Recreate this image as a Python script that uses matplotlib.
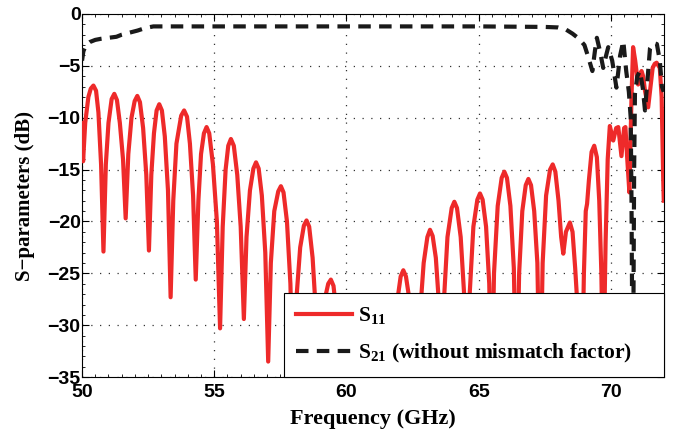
import matplotlib
matplotlib.use("Agg")
import matplotlib.pyplot as plt
from matplotlib.ticker import MultipleLocator

# S11 (GHz, dB)
f_s11 = [50.00, 50.04, 50.12, 50.24, 50.33, 50.43, 50.53, 50.62, 50.72, 50.81,
         50.90, 51.00, 51.12, 51.22, 51.32, 51.43, 51.55, 51.65,
         51.75, 51.87, 51.99, 52.09, 52.19, 52.31, 52.43, 52.53,
         52.62, 52.72, 52.82, 52.92, 53.02, 53.13, 53.25, 53.35,
         53.45, 53.57, 53.75, 53.86, 53.97, 54.08, 54.20, 54.30,
         54.40, 54.50, 54.61, 54.71, 54.81, 54.95, 55.10, 55.22,
         55.32, 55.43, 55.53, 55.63, 55.74, 55.87, 56.00, 56.12,
         56.22, 56.35, 56.48, 56.58, 56.68, 56.80, 56.93, 57.04,
         57.14, 57.27, 57.42, 57.52, 57.62, 57.75, 57.88, 58.00,
         58.12, 58.25, 58.39, 58.49, 58.59, 58.72, 58.85, 58.95,
         59.05, 59.18, 59.31, 59.41, 59.51, 59.63, 59.75, 59.85,
         59.97, 60.10, 60.25, 60.35, 60.45, 60.58, 60.75,
         60.90, 61.03, 61.15, 61.25, 61.35, 61.50, 61.70,
         61.82, 61.93, 62.05, 62.15, 62.25, 62.38, 62.52, 62.65,
         62.78, 62.92, 63.06, 63.16, 63.26, 63.38, 63.50, 63.60,
         63.70, 63.82, 63.98, 64.08, 64.18, 64.32, 64.45, 64.55,
         64.66, 64.80, 64.95, 65.05, 65.15, 65.28, 65.40, 65.49,
         65.58, 65.72, 65.87, 65.97, 66.07, 66.20, 66.33, 66.43,
         66.53, 66.65, 66.78, 66.88, 66.98, 67.10, 67.22, 67.32,
         67.42, 67.55, 67.70, 67.80, 67.90, 68.02, 68.12, 68.20,
         68.30, 68.45, 68.55, 68.65, 68.78, 68.89,
         68.98, 69.05, 69.10, 69.17, 69.27, 69.37, 69.47, 69.56, 69.64, 69.71,
         69.80, 69.88, 69.96, 70.09, 70.20, 70.28, 70.40, 70.50, 70.55,
         70.62, 70.70, 70.78, 70.84, 70.92, 71.03, 71.10, 71.16, 71.22,
         71.29, 71.41, 71.50, 71.58, 71.66, 71.73, 71.85, 71.92, 71.98, 72.00]
s11 = [-10.5, -14.2, -10.5, -8.0, -7.2, -6.9, -7.4, -9.5, -14.5, -22.9,
       -14.5, -10.5, -8.2, -7.7, -8.3, -10.5, -14.0, -19.7,
       -13.5, -10.0, -8.4, -7.9, -8.5, -11.0, -15.5, -22.8,
       -15.5, -11.5, -9.3, -8.7, -9.3, -11.8, -17.0, -27.3,
       -18.0, -12.5, -9.8, -9.3, -9.9, -12.5, -17.5, -25.6,
       -18.0, -13.5, -11.5, -10.9, -11.5, -14.5, -20.0, -30.3,
       -20.5, -15.0, -12.7, -12.05, -12.7, -15.5, -20.5, -29.4,
       -21.5, -17.0, -14.9, -14.3, -14.9, -17.5, -23.0, -33.5,
       -24.0, -19.0, -17.1, -16.6, -17.2, -20.0, -26.0, -38.0,
       -27.0, -22.5, -20.4, -19.9, -20.5, -23.5, -29.0, -38.0,
       -30.0, -27.5, -26.0, -25.6, -26.2, -29.0, -33.0, -40.0,
       -34.0, -31.0, -29.3, -29.0, -29.4, -31.5, -40.0,
       -32.5, -29.5, -28.0, -27.8, -28.4, -31.0, -40.0,
       -31.0, -27.5, -25.3, -24.7, -25.3, -27.5, -31.5, -40.0,
       -29.0, -24.0, -21.5, -20.8, -21.4, -23.5, -28.0, -40.0,
       -27.0, -21.5, -18.7, -18.1, -18.7, -21.5, -27.0, -40.0,
       -27.0, -20.5, -17.9, -17.3, -17.9, -20.5, -26.0, -38.0,
       -25.0, -18.5, -15.8, -15.2, -15.8, -18.5, -24.5, -38.0,
       -25.0, -19.0, -16.5, -15.9, -16.5, -19.0, -24.0, -38.0,
       -24.0, -17.5, -15.0, -14.5, -15.2, -18.0, -21.5, -23.1,
       -21.0, -20.1, -21.0, -24.5, -30.0, -38.0,
       -25.0, -19.0, -18.3, -16.0, -13.3, -12.7, -13.8, -18.0, -25.0, -36.0,
       -22.0, -14.0, -10.8, -12.2, -11.0, -10.9, -13.7, -11.0, -10.9,
       -14.0, -17.2, -8.0, -3.2, -4.5, -6.8, -5.8, -5.5, -6.0,
       -7.4, -9.0, -7.0, -5.2, -4.8, -4.7, -5.2, -8.0, -16.0, -18.0]

# S21 (without mismatch factor)
f_s21 = [50.00, 50.05, 50.15, 50.30, 50.50, 50.70, 51.00, 51.30, 51.50, 51.80,
         52.10, 52.40, 52.70, 55.00, 60.00, 65.00, 67.50, 68.00, 68.30, 68.55,
         68.80, 69.00, 69.15, 69.30, 69.40, 69.47, 69.58, 69.71, 69.82, 69.90,
         70.05, 70.21, 70.35, 70.47, 70.58, 70.68, 70.75, 70.78, 70.80, 70.83,
         70.88, 70.91, 71.00, 71.10, 71.21, 71.29, 71.38, 71.48, 71.60, 71.74,
         71.85, 71.93, 72.00]
s21 = [-4.5, -3.6, -3.0, -2.7, -2.5, -2.4, -2.3, -2.2, -2.0, -1.8,
       -1.6, -1.35, -1.2, -1.2, -1.2, -1.2, -1.25, -1.3, -1.5, -1.9,
       -2.4, -3.0, -4.2, -5.5, -3.5, -2.3, -3.5, -5.2, -4.0, -3.2,
       -4.5, -7.1, -4.0, -2.6, -5.5, -7.5, -10.0, -18.0, -27.0, -40.0,
       -15.0, -7.7, -6.0, -5.5, -7.2, -9.3, -6.5, -3.3, -2.8, -2.9,
       -4.5, -7.0, -7.5]

plt.rcParams['mathtext.fontset'] = 'custom'
plt.rcParams['mathtext.rm'] = 'Liberation Serif:bold'
plt.rcParams['mathtext.bf'] = 'Liberation Serif:bold'
plt.rcParams['mathtext.it'] = 'Liberation Serif:bold'

fig = plt.figure(figsize=(6.78, 4.36), dpi=100)
ax = fig.add_axes([0.121, 0.135, 0.858, 0.833])

ax.plot(f_s11, s11, color='#ee2a2a', lw=3.0, label=r'$\mathbf{S_{11}}$', zorder=3)
ax.plot(f_s21, s21, color='#1a1a1a', lw=3.0, dashes=(3, 2),
        label=r'$\mathbf{S_{21}}$ (without mismatch factor)', zorder=4)

ax.set_xlim(50, 72)
ax.set_ylim(-35, 0)
ax.xaxis.set_major_locator(MultipleLocator(5))
ax.yaxis.set_major_locator(MultipleLocator(5))
ax.xaxis.set_minor_locator(MultipleLocator(0.5))
ax.yaxis.set_minor_locator(MultipleLocator(1))
ax.tick_params(which='both', direction='in', top=True, right=True)
ax.tick_params(which='major', length=5, width=0.8)
ax.tick_params(which='minor', length=2.5, width=0.6)
ax.grid(True, which='major', linestyle=(0, (1, 6)), color='#333333', lw=0.9)

for lab in ax.get_xticklabels() + ax.get_yticklabels():
    lab.set_family('Liberation Sans')
    lab.set_fontweight('bold')
    lab.set_fontsize(14)
ax.tick_params(axis='x', pad=5)
ax.tick_params(axis='y', pad=1)

ax.set_xlabel('Frequency (GHz)', family='Liberation Serif', fontweight='bold',
              fontsize=16, labelpad=6)
ax.set_ylabel('S\u2212parameters (dB)', family='Liberation Serif', fontweight='bold',
              fontsize=15, labelpad=9)

leg = ax.legend(loc='lower left', bbox_to_anchor=(0.347, 0, 0.653, 0.23),
                mode='expand', borderaxespad=0,
                prop={'family': 'Liberation Serif', 'weight': 'bold', 'size': 15.5},
                fancybox=False, framealpha=1, edgecolor='black', handlelength=2.6,
                handletextpad=0.3, labelspacing=0.75, borderpad=0.55)
leg.get_frame().set_linewidth(0.8)
leg.set_zorder(10)

for sp in ax.spines.values():
    sp.set_linewidth(0.8)

fig.savefig('out.png', dpi=100)
